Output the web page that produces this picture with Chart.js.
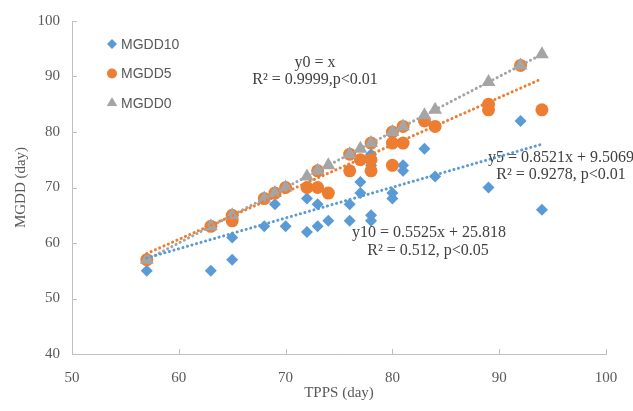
<!DOCTYPE html>
<html>
<head>
<meta charset="utf-8">
<script src="https://cdn.jsdelivr.net/npm/chart.js@4.4.1/dist/chart.umd.min.js"></script>
<style>
  body { margin: 0; background: #fff; }
  #wrap { width: 633px; height: 411px; position: relative; }
</style>
</head>
<body>
<div id="wrap"><canvas id="chart"></canvas></div>
<script>
// Series values (x = TPPS, y = MGDD)
const mgdd10X = [57, 63, 65, 65, 68, 69, 70, 72, 72, 73, 73, 74, 76, 76, 77, 77, 78, 78, 78, 78, 80, 80, 81, 81, 83, 84, 89, 92, 94];
const mgdd10Y = [55, 55, 57, 61, 63, 67, 63, 62, 68, 63, 67, 64, 64, 67, 69, 71, 65, 64, 74, 76, 69, 68, 74, 73, 77, 72, 70, 82, 66];

const mgdd5X = [57, 63, 65, 65, 68, 69, 70, 72, 73, 73, 74, 76, 76, 77, 78, 78, 78, 80, 80, 80, 81, 81, 83, 84, 89, 89, 92, 94];
const mgdd5Y = [57, 63, 65, 64, 68, 69, 70, 70, 70, 73, 69, 73, 76, 75, 73, 75, 78, 80, 78, 74, 81, 78, 82, 81, 85, 84, 92, 84];

const mgdd0X = [57, 63, 65, 68, 69, 70, 72, 73, 74, 76, 77, 78, 80, 81, 83, 84, 89, 92, 94];
const mgdd0Y = [57, 63, 65, 68, 69, 70, 72, 73, 74, 76, 77, 78, 80, 81, 83, 84, 89, 92, 94];

// Trend line end points (from the equations shown on the chart)
const trend10X = [57, 94];
const trend10Y = [57.3, 77.8];
const trend5X = [57, 94];
const trend5Y = [58.1, 89.6];
const trend0X = [57, 94];
const trend0Y = [57, 94];

// Axis ticks
const xTicks = [50, 60, 70, 80, 90, 100];
const yTicks = [40, 50, 60, 70, 80, 90, 100];

const seriesNames = ["MGDD10", "MGDD5", "MGDD0"];
const colors = ["#5B9BD5", "#ED7D31", "#A5A5A5"];
const styles = ["rectRot", "circle", "triangle"];

function toPoints(xs, ys) {
    return xs.map((x, i) => ({ x: x, y: ys[i] }));
}

// Legend and equation labels drawn onto the canvas
const extrasPlugin = {
    id: "extras",
    afterDraw(chart) {
        const ctx = chart.ctx;
        const xs = chart.scales.x;
        const ys = chart.scales.y;
        const area = chart.chartArea;

        // small inward tick marks
        ctx.save();
        ctx.strokeStyle = "#BFBFBF";
        ctx.lineWidth = 1;
        ctx.beginPath();
        xTicks.slice(1).forEach(v => {
            const px = Math.round(xs.getPixelForValue(v)) + 0.5;
            ctx.moveTo(px, area.bottom);
            ctx.lineTo(px, area.bottom - 5);
        });
        yTicks.slice(1).forEach(v => {
            const py = Math.round(ys.getPixelForValue(v)) + 0.5;
            ctx.moveTo(area.left, py);
            ctx.lineTo(area.left + 5, py);
        });
        ctx.stroke();
        ctx.restore();

        // legend
        ctx.save();
        seriesNames.forEach((name, i) => {
            const cy = 44 + i * 29.5;
            ctx.fillStyle = colors[i];
            Chart.helpers.drawPoint(ctx, { pointStyle: styles[i], radius: i == 2 ? 6 : 5, rotation: 0, borderWidth: 0 }, 112, cy);
            ctx.fillStyle = "#595959";
            ctx.font = "14px 'Liberation Sans', Arial, sans-serif";
            ctx.textBaseline = "middle";
            ctx.textAlign = "left";
            ctx.fillText(name, 121, cy + 1);
        });
        ctx.restore();

        // equations
        ctx.save();
        ctx.fillStyle = "#404040";
        ctx.font = "16px 'Liberation Serif', 'Times New Roman', serif";
        ctx.textAlign = "center";
        ctx.textBaseline = "middle";
        ctx.fillText("y0 = x", 315, 63);
        ctx.fillText("R\u00B2 = 0.9999,p<0.01", 315, 80);
        ctx.fillText("y5 = 0.8521x + 9.5069", 561, 158);
        ctx.fillText("R\u00B2 = 0.9278, p<0.01", 561, 175);
        ctx.fillText("y10 = 0.5525x + 25.818", 429, 233);
        ctx.fillText("R\u00B2 = 0.512, p<0.05", 428, 251);
        ctx.restore();
    }
};

const markerSets = [toPoints(mgdd10X, mgdd10Y), toPoints(mgdd5X, mgdd5Y), toPoints(mgdd0X, mgdd0Y)];
const trendSets = [toPoints(trend10X, trend10Y), toPoints(trend5X, trend5Y), toPoints(trend0X, trend0Y)];
const markerRadius = [6, 6.5, 8];

const datasets = [];
markerSets.forEach((pts, i) => {
    datasets.push({
        label: seriesNames[i],
        data: pts,
        pointStyle: styles[i],
        pointRadius: markerRadius[i],
        pointBackgroundColor: colors[i],
        pointBorderWidth: 0,
        showLine: false,
        order: 3 - i
    });
});
trendSets.forEach((pts, i) => {
    datasets.push({
        label: "trend " + seriesNames[i],
        data: pts,
        showLine: true,
        pointRadius: 0,
        borderColor: colors[i],
        borderWidth: 3,
        borderDash: [0.1, 4.6],
        borderCapStyle: "round",
        order: 0
    });
});

const tickFont = { family: "'Liberation Serif', 'Times New Roman', serif", size: 15 };

new Chart(document.getElementById("chart"), {
    type: "scatter",
    data: { datasets: datasets },
    options: {
        responsive: true,
        maintainAspectRatio: false,
        animation: false,
        layout: { padding: { top: 18, right: 27, left: 12, bottom: 9 } },
        plugins: {
            legend: { display: false },
            tooltip: { enabled: false }
        },
        scales: {
            x: {
                type: "linear",
                min: 50,
                max: 100,
                afterBuildTicks: s => { s.ticks = xTicks.map(v => ({ value: v })); },
                afterFit: s => { s.height = 48; },
                grid: { display: false, drawTicks: false },
                border: { display: true, color: "#BFBFBF", width: 1 },
                ticks: { color: "#595959", font: tickFont, padding: 15 },
                title: { display: true, text: "TPPS (day)", color: "#595959", font: tickFont, padding: { top: 0, bottom: 0 } }
            },
            y: {
                type: "linear",
                min: 40,
                max: 100,
                afterBuildTicks: s => { s.ticks = yTicks.map(v => ({ value: v })); },
                afterFit: s => { s.width = 60; },
                grid: { display: false, drawTicks: false },
                border: { display: true, color: "#BFBFBF", width: 1 },
                ticks: { color: "#595959", font: tickFont, padding: 12 },
                title: { display: true, text: "MGDD (day)", color: "#595959", font: tickFont, padding: { top: 0, bottom: 0 } }
            }
        }
    },
    plugins: [extrasPlugin]
});
</script>
</body>
</html>
